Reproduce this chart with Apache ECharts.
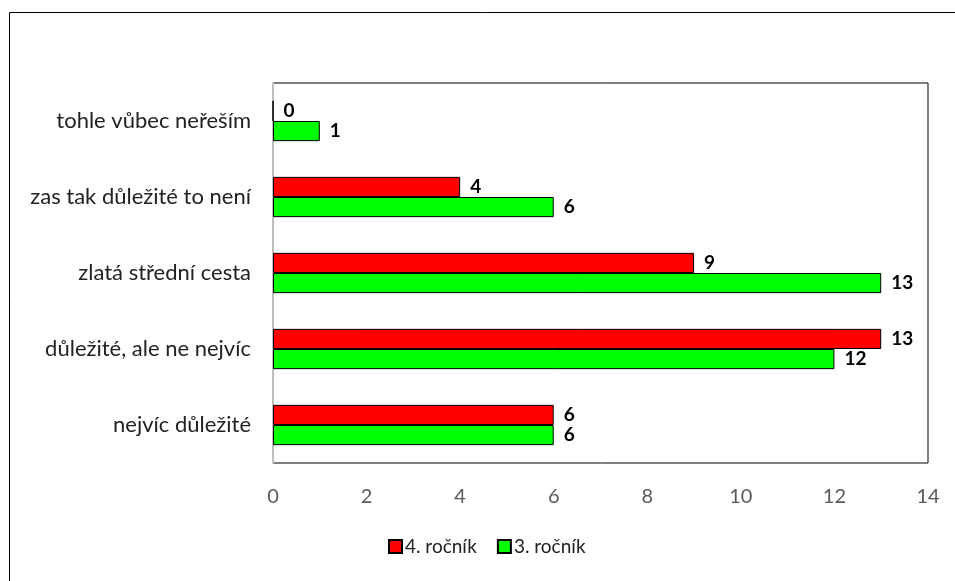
<!DOCTYPE html>
<html>
<head>
    <meta charset="utf-8" />
    <title>Graf</title>
    <script src="https://cdn.jsdelivr.net/npm/echarts@6/dist/echarts.min.js"></script>
    <style>
        html, body { margin: 0; padding: 0; background: #fff; }
        #main { width: 955px; height: 581px; }
    </style>
</head>
<body>
    <div id="main"></div>
    <script type="text/javascript">
        // kategorie odspodu nahoru
        var categories = ['nejvíc důležité', 'důležité, ale ne nejvíc', 'zlatá střední cesta', 'zas tak důležité to není', 'tohle vůbec neřeším'];
        var rocnik4 = [6, 13, 9, 4, 0];
        var rocnik3 = [6, 12, 13, 6, 1];
        var seriesNames = ['4. ročník', '3. ročník'];
        var xTicks = [0, 2, 4, 6, 8, 10, 12, 14];

        var font = 'Lato, "Noto Sans", sans-serif';
        var chart = echarts.init(document.getElementById('main'));

        var labelOpt = {
            show: true,
            position: 'right',
            distance: 10,
            color: '#000',
            fontWeight: 'bold',
            fontSize: 19,
            fontFamily: font
        };

        var option = {
            animation: false,
            textStyle: { fontFamily: font },
            graphic: [{
                type: 'rect',
                shape: { x: 9.5, y: 12.5, width: 2000, height: 2000 },
                style: { fill: 'none', stroke: '#000', lineWidth: 1 },
                silent: true
            }],
            legend: {
                data: seriesNames,
                bottom: 20,
                left: 383,
                icon: 'rect',
                itemWidth: 13,
                itemHeight: 13,
                itemGap: 20,
                textStyle: { fontSize: 19, color: '#222', fontFamily: font, padding: [0, 0, 0, -2] }
            },
            grid: {
                left: 273,
                right: 27,
                top: 83,
                bottom: 118,
                show: true,
                borderColor: '#000',
                borderWidth: 1
            },
            xAxis: {
                type: 'value',
                min: xTicks[0],
                max: xTicks[xTicks.length - 1],
                interval: 2,
                splitLine: { show: false },
                axisLine: { show: false },
                axisTick: { show: false },
                axisLabel: { color: '#595959', fontSize: 20, margin: 24, fontFamily: font }
            },
            yAxis: {
                type: 'category',
                data: categories,
                axisLine: { show: true, lineStyle: { color: '#bfbfbf', width: 2 } },
                axisTick: { show: false },
                axisLabel: { color: '#222', fontSize: 22, margin: 22, fontFamily: font }
            },
            series: [{
                name: seriesNames[0],
                type: 'bar',
                data: rocnik4,
                barGap: '0%',
                barCategoryGap: '47%',
                itemStyle: { color: '#ff0000', borderColor: '#000', borderWidth: 1 },
                label: labelOpt
            }, {
                name: seriesNames[1],
                type: 'bar',
                data: rocnik3,
                barGap: '0%',
                barCategoryGap: '47%',
                itemStyle: { color: '#00ff00', borderColor: '#000', borderWidth: 1 },
                label: labelOpt
            }]
        };
        chart.setOption(option);
    </script>
</body>
</html>
